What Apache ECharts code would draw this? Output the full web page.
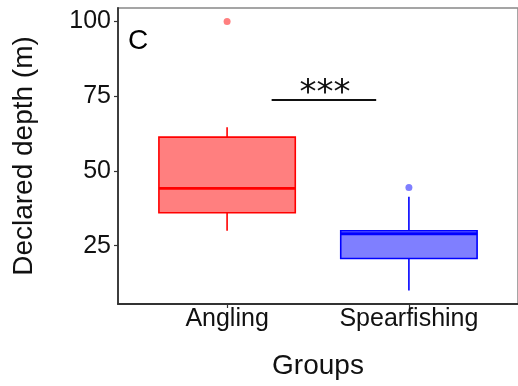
<!DOCTYPE html>
<html>
<head>
<meta charset="utf-8">
<script src="https://cdn.jsdelivr.net/npm/echarts@6/dist/echarts.min.js"></script>
<style>html,body{margin:0;padding:0;background:#fff;}#chart{width:518px;height:386px;}</style>
</head>
<body>
<div id="chart"></div>
<script>
// ---- data ----
const categories = ['Angling', 'Spearfishing'];
const whiskerLow = [30, 10];
const q1 = [36, 20.7];
const median = [44.2, 29];
const q3 = [61.3, 30];
const whiskerHigh = [64.6, 41.4];
const outliers = [[1, 100], [2, 44.5]];
const yTicks = [25, 50, 75, 100];
const sigBarX = [1.245, 1.82];
const sigBarY = 73.7;
const sigLabel = '***';
const panelLabel = 'C';

const fills = ['rgba(255,0,0,0.5)', 'rgba(0,0,255,0.5)'];
const strokes = ['#ff0000', '#0000ff'];

const boxData = categories.map((c, i) => [i + 1, whiskerLow[i], q1[i], median[i], q3[i], whiskerHigh[i]]);

const chart = echarts.init(document.getElementById('chart'), null, {renderer: 'canvas'});

function renderBox(params, api) {
  const idx = params.dataIndex;
  const x = api.value(0);
  const halfW = api.size([0.75, 0])[0] / 2;
  const pLo = api.coord([x, api.value(1)]);
  const pQ1 = api.coord([x, api.value(2)]);
  const pMed = api.coord([x, api.value(3)]);
  const pQ3 = api.coord([x, api.value(4)]);
  const pHi = api.coord([x, api.value(5)]);
  const stroke = strokes[idx];
  return {
    type: 'group',
    children: [
      {type: 'line', shape: {x1: pQ3[0], y1: pHi[1], x2: pQ3[0], y2: pQ3[1]}, style: {stroke: stroke, lineWidth: 1.6}},
      {type: 'line', shape: {x1: pQ1[0], y1: pQ1[1], x2: pQ1[0], y2: pLo[1]}, style: {stroke: stroke, lineWidth: 1.6}},
      {type: 'rect', shape: {x: pQ3[0] - halfW, y: pQ3[1], width: halfW * 2, height: pQ1[1] - pQ3[1]},
        style: {fill: fills[idx], stroke: stroke, lineWidth: 1.6}},
      {type: 'line', shape: {x1: pMed[0] - halfW, y1: pMed[1], x2: pMed[0] + halfW, y2: pMed[1]}, style: {stroke: stroke, lineWidth: 2.8}}
    ]
  };
}

function renderSig(params, api) {
  const a = api.coord([api.value(0), api.value(2)]);
  const b = api.coord([api.value(1), api.value(2)]);
  return {
    type: 'group',
    children: [
      {type: 'line', shape: {x1: a[0], y1: a[1], x2: b[0], y2: b[1]}, style: {stroke: '#111', lineWidth: 2}},
      {type: 'text', x: (a[0] + b[0]) / 2 + 1, y: a[1] - 6,
        style: {text: sigLabel, fill: '#111', font: '34px "DejaVu Sans"', align: 'center', verticalAlign: 'middle'}}
    ]
  };
}

const option = {
  animation: false,
  backgroundColor: '#fff',
  grid: {left: 118, top: 8, right: -4, bottom: 82, show: true, borderColor: '#888', borderWidth: 1.5, backgroundColor: 'transparent'},
  xAxis: {
    type: 'value', min: 0.4, max: 2.6,
    name: 'Groups', nameLocation: 'middle', nameGap: 48,
    nameTextStyle: {fontFamily: 'Liberation Sans', fontSize: 28, color: '#111'},
    splitLine: {show: false},
    axisLine: {show: true, onZero: false, lineStyle: {color: '#333', width: 1.8}},
    axisTick: {show: true, customValues: [1, 2], length: 4, lineStyle: {color: '#333', width: 1.2}},
    axisLabel: {customValues: [1, 2], formatter: v => categories[Math.round(v) - 1], margin: 3,
      fontFamily: 'Liberation Sans', fontSize: 25, color: '#111'}
  },
  yAxis: {
    type: 'value', min: 5.5, max: 104.5,
    name: 'Declared depth (m)', nameLocation: 'middle', nameGap: 80,
    nameTextStyle: {fontFamily: 'Liberation Sans', fontSize: 28, color: '#111'},
    splitLine: {show: false},
    axisLine: {show: true, onZero: false, lineStyle: {color: '#333', width: 1.8}},
    axisTick: {show: true, customValues: yTicks, length: 4, lineStyle: {color: '#333', width: 1.2}},
    axisLabel: {customValues: yTicks, margin: 7, fontFamily: 'Liberation Sans', fontSize: 25, color: '#111'}
  },
  graphic: [
    {type: 'text', x: 128, y: 41, style: {text: panelLabel, font: '28px "Liberation Sans"', fill: '#000', verticalAlign: 'middle'}}
  ],
  series: [
    {type: 'custom', renderItem: renderBox, data: boxData, encode: {x: 0, y: [1, 2, 3, 4, 5]}, z: 3},
    {type: 'scatter', data: outliers, symbolSize: 7,
      itemStyle: {color: p => fills[p.dataIndex], opacity: 1}, z: 4},
    {type: 'custom', renderItem: renderSig, data: [[sigBarX[0], sigBarX[1], sigBarY]], encode: {x: [0, 1], y: 2}, z: 5}
  ]
};
chart.setOption(option);
</script>
</body>
</html>
